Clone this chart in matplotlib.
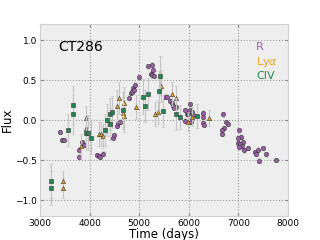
import numpy as np
import matplotlib
matplotlib.use('Agg')
import matplotlib.pyplot as plt

# R band photometry
r_t = [3403, 3440, 3490, 3786, 3786, 3840, 3887, 4150, 4180, 4200, 4264,
       4465, 4500, 4560, 4578, 4612, 4790, 4828, 4850, 4870, 4895, 4915,
       5002, 5171, 5231, 5252, 5264, 5284, 5298, 5520, 5567, 5621, 5655,
       5688, 5735, 5700, 5923, 5923, 5957, 5980, 6024, 6024, 6038, 6057,
       6091, 6292, 6290, 6285, 6313, 6690, 6744, 6784, 6716, 6676, 6676,
       7012, 7052, 6999, 7083, 6999, 7032, 7066, 7019, 7119, 7187, 7334,
       7348, 7401, 7490, 7550, 7421, 7752]
r_f = [-0.15, -0.25, -0.25, -0.37, -0.46, -0.28, -0.31, -0.44, -0.45, -0.46, -0.42,
       -0.22, -0.19, -0.07, -0.04, -0.02, 0.28, 0.34, 0.35, 0.40, 0.37, 0.44,
       0.54, 0.67, 0.58, 0.56, 0.69, 0.62, 0.55, 0.29, 0.29, 0.24, 0.21,
       0.17, 0.16, 0.15, 0.125, -0.01, 0.08, 0.07, 0.20, 0.12, -0.02, 0.10,
       0.06, 0.09, 0.04, -0.04, -0.06, 0.07, -0.03, -0.05, -0.10, -0.13, -0.175,
       -0.125, -0.21, -0.22, -0.27, -0.29, -0.30, -0.33, -0.34, -0.38, -0.35, -0.40,
       -0.42, -0.37, -0.35, -0.43, -0.51, -0.50]
r_e = [0.03] * len(r_f)

# Lyman alpha
la_t = [3470, 3470, 3830, 3927, 3927, 4190, 4230, 4270, 4560, 4590, 4680,
        4690, 4700, 4930, 5320, 5370, 5435, 5655, 5740, 5990, 6070, 6410]
la_f = [-0.76, -0.85, -0.33, 0.02, -0.10, -0.18, -0.18, -0.20, 0.18, 0.27, 0.09,
        0.05, 0.21, 0.16, 0.08, 0.10, 0.42, 0.33, 0.27, -0.02, 0.04, 0.02]
la_e = [0.12, 0.12, 0.15, 0.15, 0.15, 0.15, 0.15, 0.15, 0.2, 0.2, 0.2,
        0.2, 0.2, 0.15, 0.15, 0.15, 0.2, 0.15, 0.15, 0.12, 0.12, 0.1]

# CIV
civ_t = [3220, 3220, 3570, 3670, 3670, 3920, 3975, 4020, 4310, 4345, 4411,
         4420, 4450, 4680, 5070, 5125, 5185, 5390, 5420, 5480, 5740, 5820, 6160]
civ_f = [-0.76, -0.85, -0.13, 0.19, 0.07, -0.16, -0.16, -0.22, -0.12, 0.0, -0.05,
         0.08, 0.10, 0.13, 0.29, 0.17, 0.33, 0.36, 0.55, 0.11, 0.08, 0.04, 0.05]
civ_e = [0.21, 0.21, 0.2, 0.24, 0.24, 0.2, 0.22, 0.2, 0.2, 0.2, 0.2,
         0.2, 0.2, 0.22, 0.22, 0.2, 0.2, 0.25, 0.25, 0.2, 0.2, 0.15, 0.15]

c_r = '#9b5ea6'
c_la = '#eba51c'
c_civ = '#1e8a4f'
c_err = '#c4c4c4'

fig = plt.figure(figsize=(3.2, 2.4), dpi=100)
ax = fig.add_axes([0.125, 0.1, 0.775, 0.8])
ax.set_facecolor('#eeeeee')

ekw = dict(ls='none', ecolor=c_err, elinewidth=0.8, capsize=1.5, capthick=0.7)
ax.errorbar(r_t, r_f, yerr=r_e, marker='o', ms=3.1, mfc=c_r, mec='#333333',
            mew=0.4, zorder=3, **ekw)
ax.errorbar(la_t, la_f, yerr=la_e, marker='^', ms=3.1, mfc=c_la, mec='#333333',
            mew=0.4, zorder=4, **ekw)
ax.errorbar(civ_t, civ_f, yerr=civ_e, marker='s', ms=3.1, mfc=c_civ, mec='#333333',
            mew=0.4, zorder=5, **ekw)

ax.set_xlim(3000, 8000)
ax.set_ylim(-1.2, 1.2)
ax.set_xticks(np.arange(3000, 8001, 1000))
ax.set_yticks([-1.0, -0.5, 0.0, 0.5, 1.0])
ax.grid(True, ls=':', color='#999999', lw=0.8)
ax.set_axisbelow(True)
ax.tick_params(labelsize=6.5, length=2, color='#888888', direction='in',
               top=True, right=True, pad=2)
for s in ax.spines.values():
    s.set_color('#d0d0d0')
ax.set_xlabel('Time (days)', fontsize=8.5, labelpad=0)
ax.set_ylabel('Flux', fontsize=8.5, labelpad=1)

ax.text(0.073, 0.88, 'CT286', transform=ax.transAxes, fontsize=10, va='center')
ax.text(0.871, 0.878, 'R', transform=ax.transAxes, fontsize=8, color=c_r, va='center')
ax.text(0.871, 0.803, r'Ly$\alpha$', transform=ax.transAxes, fontsize=8, color=c_la, va='center')
ax.text(0.871, 0.727, 'CIV', transform=ax.transAxes, fontsize=8, color=c_civ, va='center')

plt.savefig('out.png', dpi=100)
